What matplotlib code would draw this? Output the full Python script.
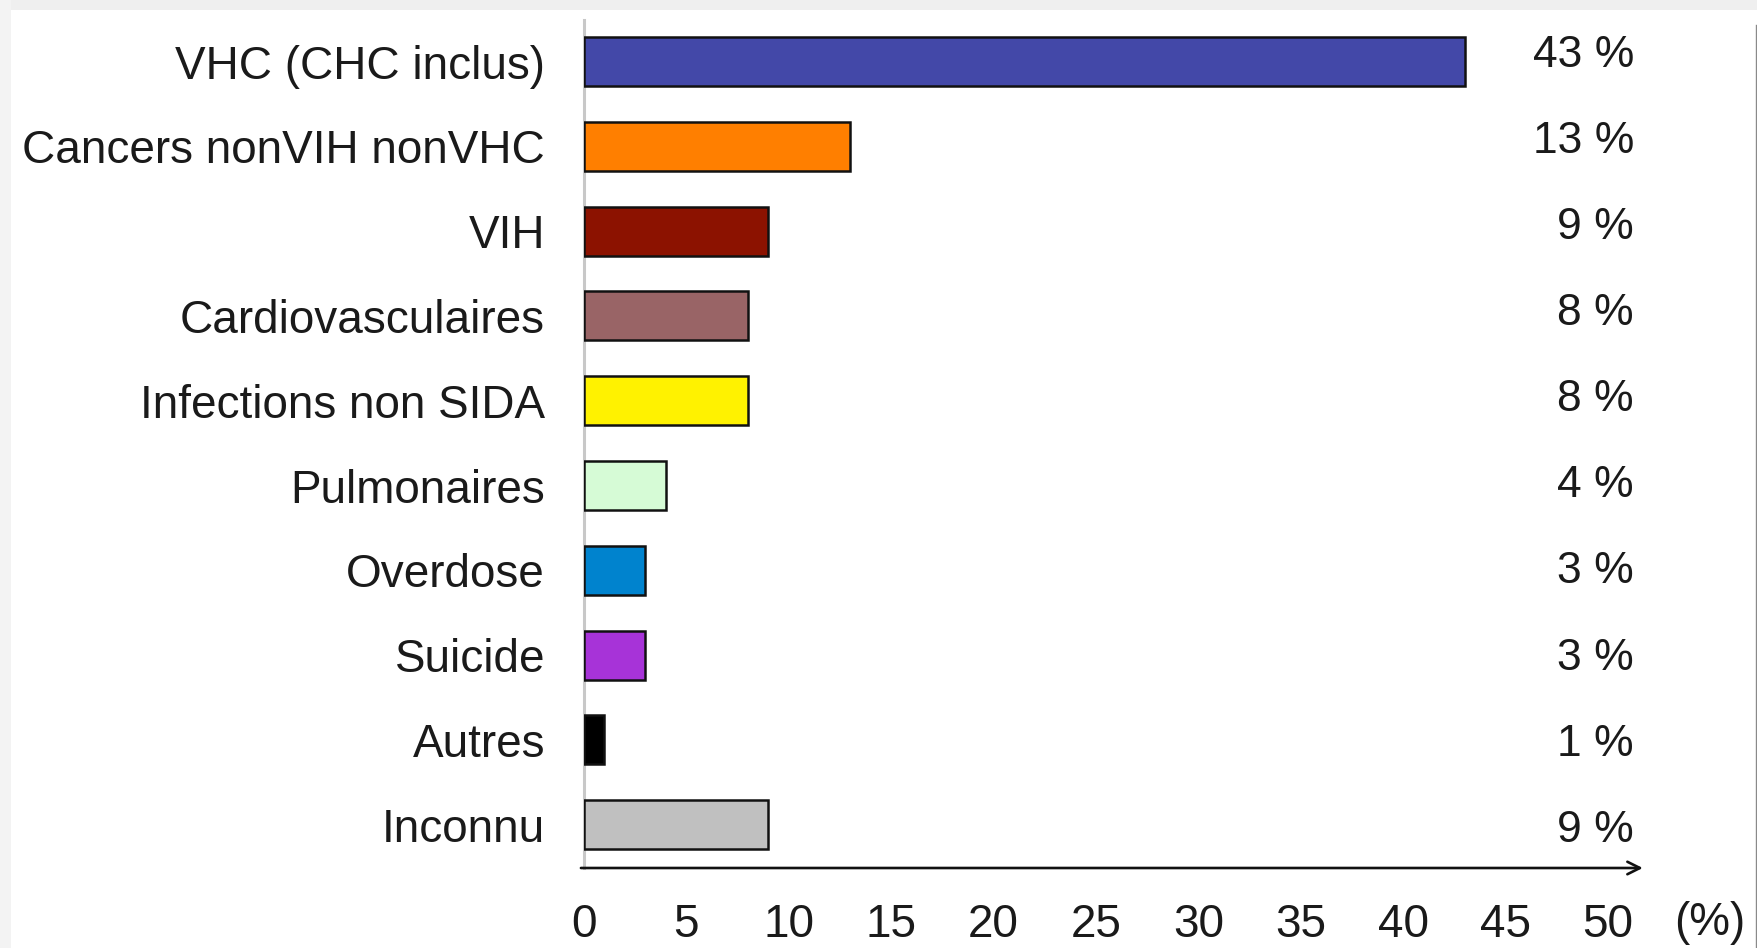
import matplotlib
matplotlib.use("Agg")
import matplotlib.pyplot as plt
from matplotlib.patches import Rectangle
from matplotlib.lines import Line2D

plt.rcParams['font.family'] = ['Liberation Sans', 'DejaVu Sans']

categories = [
    "VHC (CHC inclus)",
    "Cancers nonVIH nonVHC",
    "VIH",
    "Cardiovasculaires",
    "Infections non SIDA",
    "Pulmonaires",
    "Overdose",
    "Suicide",
    "Autres",
    "Inconnu",
]
values = [43, 13, 9, 8, 8, 4, 3, 3, 1, 9]
colors = [
    "#4348A8", "#FF7F00", "#8C1200", "#996466", "#FFF200",
    "#D6FBD6", "#0083CE", "#A733D8", "#000000", "#C0C0C0",
]
xticks = [0, 5, 10, 15, 20, 25, 30, 35, 40, 45, 50]
unit_label = "(%)"

W, H = 1757, 948
fig = plt.figure(figsize=(W / 100, H / 100), dpi=100)
fig.patch.set_facecolor("white")

# light gray page margins (top and left) and thin frame on the right
fig.patches.append(Rectangle((0, 1 - 10 / H), 1, 10 / H,
                             transform=fig.transFigure, facecolor="#efefef",
                             edgecolor="none"))
fig.patches.append(Rectangle((0, 0), 11 / W, 1,
                             transform=fig.transFigure, facecolor="#f3f3f3",
                             edgecolor="none"))
fig.lines.append(Line2D([1755.5 / W, 1755.5 / W], [0, 1 - 25 / H],
                        transform=fig.transFigure, color="#8a8a8a", lw=1.0))

ax_left, ax_right = 584 / W, 1608 / W
ax_top, ax_bot = 1 - 20 / H, 1 - 868 / H
ax = fig.add_axes([ax_left, ax_bot, ax_right - ax_left, ax_top - ax_bot])
ax.set_facecolor("none")

ypos = list(range(len(categories)))
ax.barh(ypos, values, height=0.578, color=colors, edgecolor="#111111",
        linewidth=1.8, zorder=3)

ax.set_xlim(0, 50)
ax.set_ylim(9.51, -0.49)

# value labels in a column to the right, on a slightly wider row pitch
label_pitch, label_shift = 1.0159, -0.077
for y, v in zip(ypos, values):
    ax.text(51.27, y * label_pitch + label_shift, f"{v} %", ha="right",
            va="center", fontsize=32, color="#1a1a1a", clip_on=False)

ax.set_yticks(ypos)
ax.set_yticklabels(categories, fontsize=33, color="#1a1a1a")
ax.set_xticks(xticks)
ax.set_xticklabels([str(t) for t in xticks], fontsize=33, color="#1a1a1a")
ax.tick_params(axis="y", length=0, pad=28)
ax.tick_params(axis="x", length=0, pad=25)

for s in ["top", "right", "bottom"]:
    ax.spines[s].set_visible(False)
ax.spines["left"].set_color("#c8c8c8")
ax.spines["left"].set_linewidth(2.2)

# horizontal axis drawn as an arrow
ax.annotate("", xy=(51.7, 9.51), xytext=(-0.15, 9.51),
            xycoords="data", textcoords="data", annotation_clip=False,
            arrowprops=dict(arrowstyle="->,head_length=0.9,head_width=0.45",
                            color="#111111", lw=1.9, shrinkA=0, shrinkB=0))

fig.text(1710 / W, 1 - 923 / H, unit_label, ha="center", va="center",
         fontsize=33, color="#1a1a1a")

fig.savefig("out.png", dpi=100, facecolor=fig.get_facecolor())
